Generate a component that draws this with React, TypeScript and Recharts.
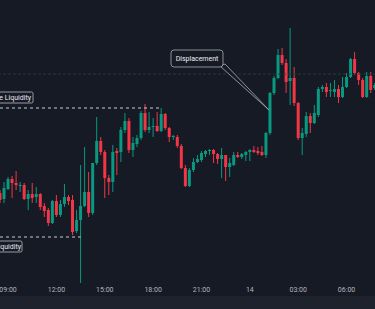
import { ComposedChart, Bar, XAxis, YAxis, ReferenceLine, ReferenceDot } from "recharts";

// 15-minute candles, 08:30 -> 07:45 next day
const times =
  "08:30 08:45 09:00 09:15 09:30 09:45 10:00 10:15 10:30 10:45 11:00 11:15 11:30 11:45 12:00 12:15 12:30 12:45 13:00 13:15 13:30 13:45 14:00 14:15 14:30 14:45 15:00 15:15 15:30 15:45 16:00 16:15 16:30 16:45 17:00 17:15 17:30 17:45 18:00 18:15 18:30 18:45 19:00 19:15 19:30 19:45 20:00 20:15 20:30 20:45 21:00 21:15 21:30 21:45 22:00 22:15 22:30 22:45 23:00 23:15 23:30 23:45 00:00 00:15 00:30 00:45 01:00 01:15 01:30 01:45 02:00 02:15 02:30 02:45 03:00 03:15 03:30 03:45 04:00 04:15 04:30 04:45 05:00 05:15 05:30 05:45 06:00 06:15 06:30 06:45 07:00 07:15 07:30 07:45".split(
    " "
  );

const opens = [
  107, 101, 111, 121, 117, 114, 115, 101, 106, 103,
  106, 94, 90, 77, 99, 85, 96, 103, 100, 69,
  80, 94, 108, 87, 137, 159, 148, 122, 118, 149,
  148, 170, 179, 150, 156, 162, 187, 170, 173, 174,
  169, 186, 172, 163, 163, 154, 132, 114, 130, 138,
  140, 146, 149, 150, 146, 141, 145, 133, 135, 145,
  143, 145, 148, 150, 149, 148, 145, 167, 207, 222,
  245, 237, 219, 222, 197, 162, 166, 184, 177, 185,
  211, 213, 209, 208, 211, 203, 213, 223, 241, 227,
  220, 203, 224, 212,
];
const highs = [
  110, 118, 123, 124, 129, 118, 117, 110, 117, 113,
  107, 97, 92, 100, 105, 100, 116, 105, 105, 90,
  135, 153, 128, 137, 183, 163, 150, 125, 155, 152,
  173, 187, 182, 163, 165, 189, 196, 188, 182, 188,
  192, 187, 173, 165, 165, 156, 135, 132, 142, 145,
  149, 150, 151, 151, 147, 152, 145, 142, 148, 148,
  147, 149, 151, 154, 153, 154, 168, 208, 224, 251,
  252, 241, 272, 233, 198, 172, 188, 187, 195, 213,
  215, 217, 217, 220, 215, 223, 227, 242, 248, 228,
  222, 228, 228, 217,
];
const lows = [
  97, 97, 110, 102, 110, 108, 100, 90, 97, 97,
  90, 83, 74, 76, 83, 83, 93, 95, 65, 67,
  17, 93, 83, 85, 135, 145, 102, 105, 108, 125,
  138, 167, 147, 143, 153, 160, 168, 167, 163, 168,
  168, 170, 158, 160, 152, 131, 113, 113, 128, 137,
  138, 143, 145, 137, 136, 122, 119, 123, 134, 142,
  141, 139, 139, 147, 145, 144, 142, 165, 205, 221,
  235, 207, 195, 194, 160, 145, 163, 167, 176, 183,
  208, 203, 203, 203, 197, 202, 212, 222, 225, 215,
  202, 202, 207, 210,
];
const closes = [
  100, 112, 121, 117, 115, 115, 101, 106, 102, 106,
  93, 89, 77, 99, 85, 96, 103, 99, 68, 80,
  94, 108, 87, 137, 159, 148, 122, 118, 148, 147,
  170, 179, 150, 157, 162, 187, 170, 173, 174, 169,
  186, 172, 163, 164, 154, 132, 114, 130, 138, 141,
  147, 149, 150, 146, 141, 145, 133, 137, 145, 143,
  146, 148, 150, 148, 147, 145, 167, 207, 222, 245,
  237, 218, 222, 197, 162, 167, 184, 177, 187, 211,
  213, 208, 210, 211, 203, 213, 223, 241, 227, 220,
  203, 224, 210, 215,
];

const tickTimes = ["09:00", "12:00", "15:00", "18:00", "21:00", "00:00", "03:00", "06:00"];
const dayLabel = "14";

const buySideLevel = 192;
const sellSideLevel = 63;
const markLevel = 226;
const displacementAt = { t: "01:15", price: 190 };

const data = times.map((t, i) => ({
  t,
  open: opens[i],
  high: highs[i],
  low: lows[i],
  close: closes[i],
}));

const BG = "#161a25";
const GREEN = "#089981";
const RED = "#f23645";

function Candle(props: any) {
  const { x, y, width, height, payload } = props;
  const { open, close, high, low } = payload;
  const color = close >= open ? GREEN : RED;
  const h = Math.abs(height);
  const top = height < 0 ? y + height : y;
  const k = high === low ? 0 : h / (high - low);
  const bodyTop = top + (high - Math.max(open, close)) * k;
  const bodyH = Math.max(1, Math.abs(open - close) * k);
  const cx = x + width / 2;
  return (
    <g>
      <line x1={cx} x2={cx} y1={top} y2={top + h} stroke={color} strokeWidth={1} />
      <rect x={x} y={bodyTop} width={width} height={bodyH} fill={color} />
    </g>
  );
}

function LiqLabel({ cx, cy, text, below }: any) {
  const y0 = below ? cy + 4 : cy - 16;
  return (
    <g>
      <rect x={cx - 70} y={y0} width={below ? 92 : 103} height={11} rx={1.5} fill={BG} stroke="#b8bcc6" strokeWidth={0.8} />
      <text x={cx + (below ? 21 : 31)} y={y0 + 8} textAnchor="end" fontSize={7} fill="#e6e8ee" fontFamily="Roboto, sans-serif">
        {text}
      </text>
    </g>
  );
}

function Callout({ cx, cy }: any) {
  return (
    <g>
      <polygon
        points={`${cx - 50},${cy - 44} ${cx - 45},${cy - 46} ${cx - 1},${cy}`}
        fill={BG}
        stroke="#a9adb7"
        strokeWidth={0.8}
      />
      <rect x={cx - 99} y={cy - 60} width={52} height={17} rx={3} fill={BG} stroke="#a9adb7" strokeWidth={0.8} />
      <text x={cx - 73} y={cy - 49} textAnchor="middle" fontSize={7} fill="#eceef2" fontFamily="Roboto, sans-serif">
        Displacement
      </text>
    </g>
  );
}

export default function App() {
  return (
    <div style={{ width: 375, height: 309, background: BG, overflow: "hidden" }}>
      <style>{`body{margin:0}`}</style>
      <ComposedChart
        width={375}
        height={296}
        data={data}
        margin={{ top: 0, right: -1.8, left: -2, bottom: 0 }}
        barCategoryGap="12%"
      >
        <XAxis
          dataKey="t"
          ticks={tickTimes}
          interval={0}
          tickFormatter={(v: string) => (v === "00:00" ? dayLabel : v)}
          tickLine={false}
          axisLine={false}
          tickSize={0}
          tickMargin={3}
          height={12}
          tick={{ fill: "#b2b5be", fontSize: 7, fontFamily: "Roboto, sans-serif" }}
        />
        <YAxis hide type="number" domain={[16, 300]} allowDataOverflow />
        <ReferenceLine y={markLevel} stroke="#1f3a3f" strokeDasharray="3 2" strokeWidth={1} />
        <Bar
          dataKey={(d: any) => [d.low, d.high]}
          shape={<Candle />}
          isAnimationActive={false}
        />
        <ReferenceLine
          segment={[{ x: "08:30", y: buySideLevel }, { x: "18:30", y: buySideLevel }]}
          stroke="#c9ccd4"
          strokeDasharray="3 3"
          strokeWidth={1}
        />
        <ReferenceLine
          segment={[{ x: "08:30", y: sellSideLevel }, { x: "13:30", y: sellSideLevel }]}
          stroke="#c9ccd4"
          strokeDasharray="3 3"
          strokeWidth={1}
        />
        <ReferenceDot
          x="08:30"
          y={buySideLevel}
          r={0}
          shape={(p: any) => <LiqLabel cx={p.cx} cy={p.cy} text="Buy Side Liquidity" />}
        />
        <ReferenceDot
          x="08:30"
          y={sellSideLevel}
          r={0}
          shape={(p: any) => <LiqLabel cx={p.cx} cy={p.cy} text="Sell Side Liquidity" below />}
        />
        <ReferenceDot
          x={displacementAt.t}
          y={displacementAt.price}
          r={0}
          shape={(p: any) => <Callout cx={p.cx} cy={p.cy} />}
        />
      </ComposedChart>
      <div style={{ height: 13, background: "#1e222d" }} />
    </div>
  );
}
